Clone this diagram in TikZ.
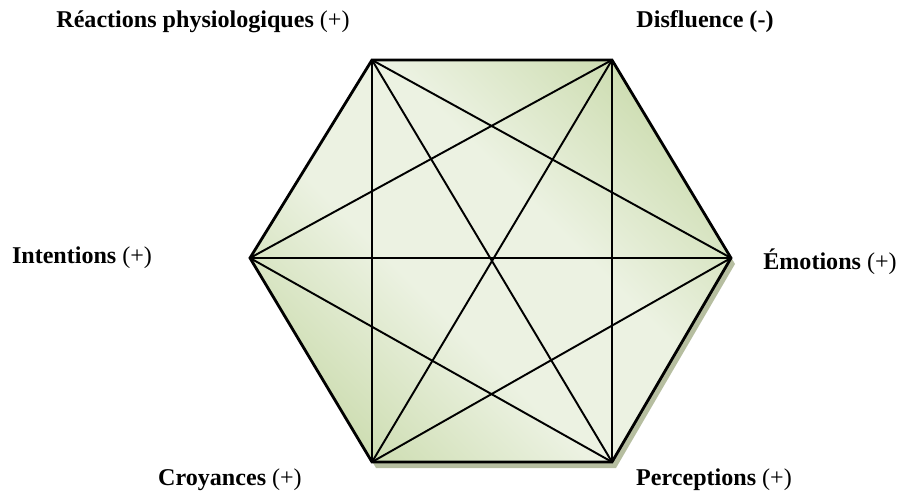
\documentclass[tikz,border=0pt]{standalone}
\usepackage{fontspec}
\setmainfont{Liberation Serif}
\usetikzlibrary{calc}
\definecolor{hexdark}{RGB}{198,216,166}
\definecolor{hexlight}{RGB}{236,242,226}
\definecolor{hexshadow}{RGB}{182,190,160}
\pgfdeclarehorizontalshading{hexfill}{100bp}{color(0bp)=(hexdark);color(20bp)=(hexdark);color(42bp)=(hexlight);color(58bp)=(hexlight);color(80bp)=(hexdark);color(100bp)=(hexdark)}
\tikzset{
  rim/.style={draw=black,line width=1.6pt,line join=miter},
  chord/.style={draw=black,line width=1.1pt},
  pole/.style={font=\fontsize{13.7}{16}\selectfont,inner sep=0pt}
}

\begin{document}
\begin{tikzpicture}
  \useasboundingbox (-9.82,-4.74) rectangle (8.14,5.22);
  % corners of the hexagon
  \coordinate (tl) at (-2.38,4.02);
  \coordinate (tr) at (2.42,4.02);
  \coordinate (r) at (4.8,0.06);
  \coordinate (br) at (2.42,-4.02);
  \coordinate (bl) at (-2.38,-4.02);
  \coordinate (l) at (-4.82,0.06);
  \coordinate (sh) at (0.08,-0.12);
  \fill[hexshadow] ($(tl)+(sh)$) -- ($(tr)+(sh)$) -- ($(r)+(sh)$) -- ($(br)+(sh)$) -- ($(bl)+(sh)$) -- ($(l)+(sh)$) -- cycle;
  \shade[shading=hexfill,shading angle=45] (tl) -- (tr) -- (r) -- (br) -- (bl) -- (l) -- cycle;
  \foreach \a/\b in {tl/br,tr/bl,l/r,tl/r,tl/bl,tr/l,tr/br,l/br,r/bl}
    \draw[chord] (\a) -- (\b);
  \draw[rim] (tl) -- (tr) -- (r) -- (br) -- (bl) -- (l) -- cycle;
  \node[pole] (phys) at (-5.76,4.78) {\textbf{Réactions physiologiques} (+)};
  \node[pole] (disf) at (4.28,4.78) {\textbf{Disfluence (-)}};
  \node[pole] (inte) at (-8.18,0.06) {\textbf{Intentions} (+)};
  \node[pole] (emot) at (6.78,-0.02) {\textbf{Émotions} (+)};
  \node[pole] (croy) at (-5.22,-4.38) {\textbf{Croyances} (+)};
  \node[pole] (perc) at (4.46,-4.38) {\textbf{Perceptions} (+)};
\end{tikzpicture}
\end{document}
